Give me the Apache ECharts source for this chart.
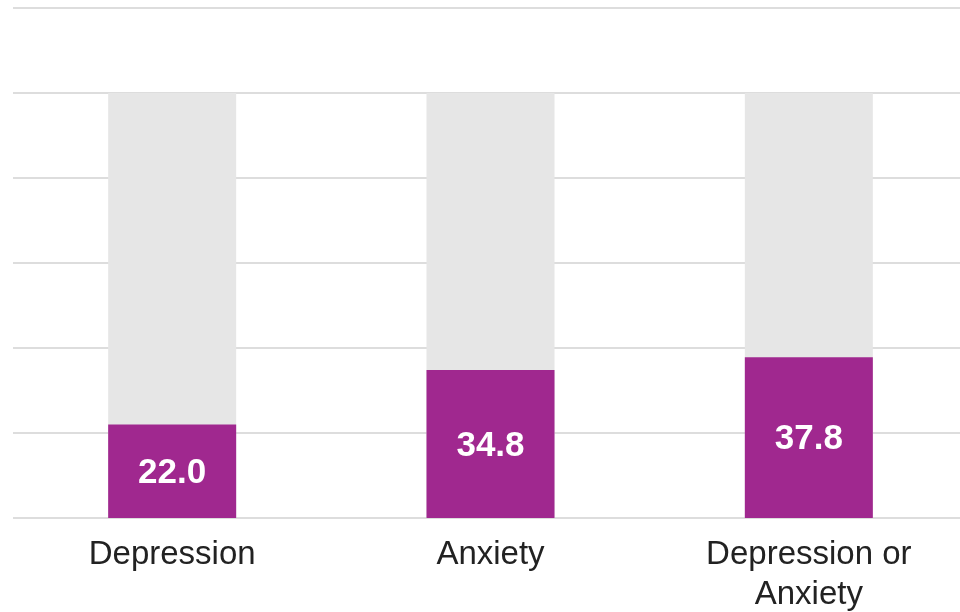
<!DOCTYPE html>
<html>
<head>
<meta charset="utf-8">
<script src="https://cdn.jsdelivr.net/npm/echarts@6/dist/echarts.min.js"></script>
<style>
  html, body { margin: 0; padding: 0; background: #ffffff; }
  #chart { width: 960px; height: 612px; }
</style>
</head>
<body>
<div id="chart"></div>
<script>
// Share of respondents reporting symptoms (%)
const categories = ['Depression', 'Anxiety', 'Depression or\nAnxiety'];
const values = [22.0, 34.8, 37.8];
const fullScale = [100, 100, 100];

const chart = echarts.init(document.getElementById('chart'));
chart.setOption({
  animation: false,
  grid: { left: 13, top: 8, width: 955, bottom: 94, outerBoundsMode: 'none', containLabel: false },
  xAxis: {
    type: 'category',
    data: categories,
    axisLine: { show: false },
    axisTick: { show: false },
    axisLabel: {
      color: '#222222',
      fontFamily: 'Liberation Sans, Arial, sans-serif',
      fontSize: 33,
      lineHeight: 40,
      margin: 17,
      verticalAlign: 'top'
    }
  },
  yAxis: {
    type: 'value',
    min: 0,
    max: 120,
    interval: 20,
    axisLabel: { show: false },
    axisLine: { show: false },
    axisTick: { show: false },
    splitLine: { lineStyle: { color: '#dddddd', width: 2 } }
  },
  series: [
    {
      type: 'bar',
      data: fullScale,
      barWidth: 128,
      silent: true,
      itemStyle: { color: '#e6e6e6' },
      z: 1
    },
    {
      type: 'bar',
      data: values,
      barWidth: 128,
      barGap: '-100%',
      itemStyle: { color: '#a0288f' },
      label: {
        show: true,
        position: 'inside',
        offset: [0, 2],
        color: '#ffffff',
        fontFamily: 'Liberation Sans, Arial, sans-serif',
        fontWeight: 'bold',
        fontSize: 35,
        formatter: p => p.value.toFixed(1)
      },
      z: 2
    }
  ]
});
</script>
</body>
</html>
